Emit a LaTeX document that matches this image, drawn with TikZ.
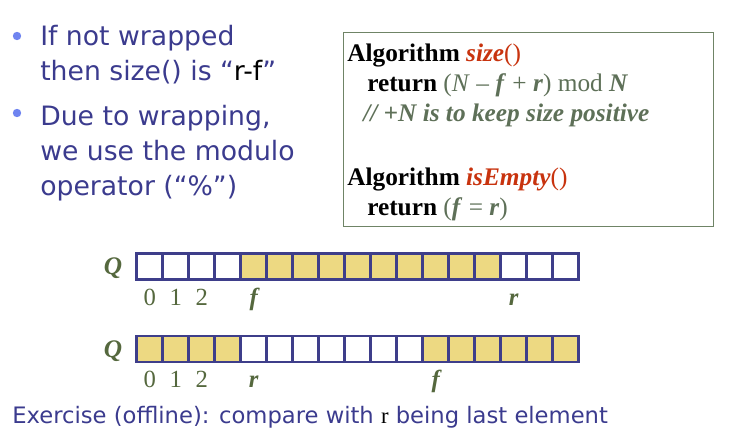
\documentclass[tikz,border=0pt]{standalone}
\usepackage{fontspec}
\setmainfont{Liberation Serif}
\newfontfamily\slidefont{DejaVu Sans}
\usetikzlibrary{positioning}
\definecolor{slideblue}{HTML}{3B3B8E}
\definecolor{bulletblue}{HTML}{6F84F0}
\definecolor{cellnavy}{HTML}{3E3E8A}
\definecolor{cellfill}{HTML}{EDD982}
\definecolor{boxgreen}{HTML}{6F8466}
\definecolor{codegray}{HTML}{5E7058}
\definecolor{algred}{HTML}{C8330E}
\definecolor{idxolive}{HTML}{55683E}

\begin{document}
\begin{tikzpicture}[x=0.75pt, y=-0.75pt,
  bullettext/.style={anchor=base west, align=left, inner sep=0pt, text=slideblue, font=\slidefont\fontsize{20}{26.25}\selectfont},
  dot/.style={circle, fill=bulletblue, inner sep=0pt, minimum size=6.3pt},
  codeline/.style={anchor=base west, inner sep=0pt, font=\fontsize{19}{22}\selectfont},
  emptycell/.style={draw=cellnavy, line width=2.2pt, fill=white, minimum size=19.5pt, inner sep=0pt},
  fullcell/.style={emptycell, fill=cellfill},
  idx/.style={anchor=base, inner sep=0pt, text=idxolive, font=\fontsize{18.5}{20}\selectfont},
  ptr/.style={idx, font=\bfseries\itshape\fontsize{18.5}{20}\selectfont},
  qname/.style={anchor=base, inner sep=0pt, text=idxolive, font=\bfseries\itshape\fontsize{19}{20}\selectfont}]
  \useasboundingbox (0,0) rectangle (731,435);

  \node[dot] (b1) at (17,36) {};
  \node[bullettext] (t1) at (40,80) {If not wrapped\\then size() is “\textcolor{black}{r-f}”};
  \node[dot] (b2) at (17,113) {};
  \node[bullettext] (t2) at (40,195) {Due to wrapping,\\we use the modulo\\operator (“\%”)};

  \node[draw=boxgreen, line width=1.1pt, anchor=north west, minimum width=277.5pt, minimum height=145.5pt] (algbox) at (343,32) {};
  \node[codeline] (c1) at (347,61.7) {\textbf{Algorithm} \textcolor{algred}{\textbf{\textit{size}}()}};
  \node[codeline, text=codegray] (c2) at (367,91.7) {\textcolor{black}{\textbf{return}} (\textit{N} – \textbf{\textit{f}} + \textbf{\textit{r}}) mod \textbf{\textit{N}}};
  \node[codeline, text=codegray, font=\bfseries\itshape\fontsize{19}{22}\selectfont] (c3) at (363,121.7) {// +N is to keep size positive};
  \node[codeline] (c4) at (347,185) {\textbf{Algorithm} \textcolor{algred}{\textbf{\textit{isEmpty}}()}};
  \node[codeline, text=codegray] (c5) at (367,215) {\textcolor{black}{\textbf{return}} (\textbf{\textit{f}} = \textbf{\textit{r}})};

  \node[qname] (q1) at (113,274) {Q};
  \foreach \i in {0,...,16}{
    \ifnum\i>3 \ifnum\i<14 \def\cst{fullcell}\else\def\cst{emptycell}\fi\else\def\cst{emptycell}\fi
    \node[\cst] (top\i) at ({149.7+26*\i},266.5) {};
  }
  \node[idx] (top0n) at (top0 |- 0,305) {0};
  \node[idx] (top1n) at (top1 |- 0,305) {1};
  \node[idx] (top2n) at (top2 |- 0,305) {2};
  \node[ptr] (topf) at (top4 |- 0,305) {f};
  \node[ptr] (topr) at (top14 |- 0,305) {r};

  \node[qname] (q2) at (113,357) {Q};
  \foreach \i in {0,...,16}{
    \ifnum\i>3 \ifnum\i<11 \def\cst{emptycell}\else\def\cst{fullcell}\fi\else\def\cst{fullcell}\fi
    \node[\cst] (bot\i) at ({149.7+26*\i},349) {};
  }
  \node[idx] (bot0n) at (bot0 |- 0,387) {0};
  \node[idx] (bot1n) at (bot1 |- 0,387) {1};
  \node[idx] (bot2n) at (bot2 |- 0,387) {2};
  \node[ptr] (botr) at (bot4 |- 0,387) {r};
  \node[ptr] (botf) at (bot11 |- 0,387) {f};

  \node[anchor=base west, inner sep=0pt, text=slideblue, font=\slidefont\fontsize{17}{20}\selectfont] (ex) at (12,423) {Exercise (offline): compare with \textcolor{black}{\rmfamily r} being last element};
\end{tikzpicture}
\end{document}
